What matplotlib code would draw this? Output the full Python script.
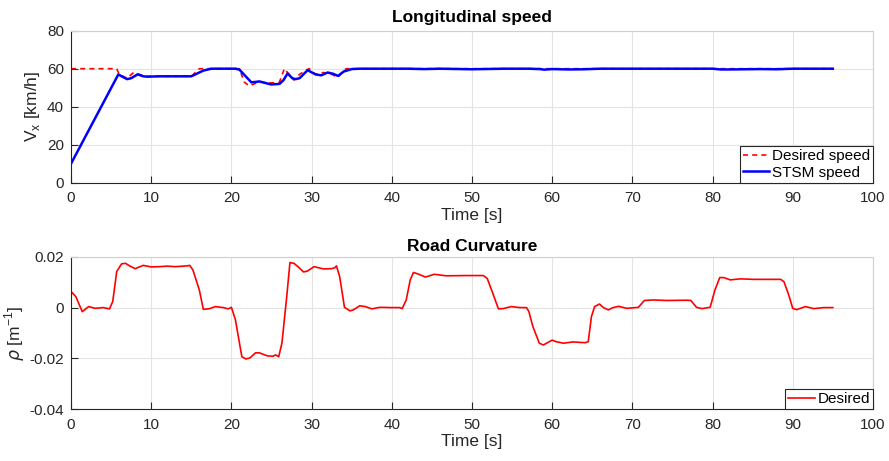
import numpy as np
import matplotlib.pyplot as plt

plt.rcParams['font.family'] = ['Liberation Sans', 'DejaVu Sans']
plt.rcParams['axes.unicode_minus'] = False

# ---- data ----
# longitudinal speed, km/h
t_stsm = [0, 5.9, 6.3, 7.0, 7.5, 8.3, 9.0, 9.5, 11, 13, 15, 15.5, 16.5, 17.5,
          20.5, 21.0, 22.0, 22.5, 23.5, 24.2, 25.0, 26.0, 26.5, 27.0, 27.6,
          28.0, 28.5, 29.5, 30.5, 31.2, 32.0, 32.7, 33.3, 34.0, 35.0, 36, 42,
          44, 46, 50, 54, 57, 58.5, 59, 60, 62, 64, 66, 70, 80, 81, 82, 84,
          86, 88, 90, 95]
v_stsm = [10, 57, 56, 54.5, 55, 57, 56, 55.8, 56, 56, 56, 57, 59, 60,
          60, 59.5, 55, 52.8, 53.3, 52.5, 51.7, 52, 54, 57.5, 55,
          54.5, 55, 59.2, 57, 56.5, 58, 57.3, 56.2, 58.5, 59.8, 60, 60,
          59.8, 60, 59.7, 60, 60, 59.8, 59.5, 59.8, 59.6, 59.7, 60, 60, 60, 59.6, 59.6, 59.7,
          59.8, 59.7, 60, 60]
t_des = [0, 5.7, 6.0, 7.0, 7.8, 8.5, 9.5, 15, 15.5, 16, 21.0, 21.6, 22.2, 23.5,
         25, 26.0, 26.6, 27.2, 27.8, 28.5, 29.2, 29.7, 30.5, 31.5, 32.5, 33.3,
         33.8, 34.3, 95]
v_des = [60, 60, 57, 55, 58, 57, 56, 56, 58, 60, 60, 53, 51, 53,
         52.5, 53, 60, 57, 54, 57, 59, 60, 57, 58, 57, 55.5,
         58, 60, 60]

# road curvature, 1/m
t_rho = [0, 0.6, 1.4, 2.2, 3, 4, 4.8, 5.2, 5.7, 6.3, 6.8, 7.3, 8, 9, 10, 11, 12,
         13, 14.5, 14.8, 15.2, 16, 16.5, 17.3, 18, 19, 19.6, 20, 20.5, 21.3,
         21.8, 22.3, 23, 23.5, 24.5, 25.2, 25.5, 25.9, 26.3, 26.9, 27.3, 27.8,
         28.3, 29, 29.5, 30.3, 31.5, 32.5, 32.9, 33.1, 33.5, 34.1, 34.8, 35.2,
         36, 36.7, 37.5, 38.5, 40, 41, 41.3, 41.8, 42.3, 42.7, 43.3, 44.2, 45.3,
         46.8, 49.3, 51.4, 51.9, 52.6, 53.3, 53.9, 54.9, 56, 56.8, 57.1, 57.6,
         58.4, 58.9, 59.3, 60, 60.5, 61.4, 62.6, 64.1, 64.5, 64.9, 65.3, 65.9,
         66.4, 67, 67.6, 68.3, 69.3, 70.75, 71.5, 72.6, 74.3, 76.8, 77.3, 78,
         78.7, 79.7, 80.3, 80.9, 81.4, 82.2, 83.5, 85.1, 86.8, 88.5, 88.9, 89.5,
         90, 90.5, 91.6, 92.6, 93.9, 95]
rho = [0.0063, 0.0043, -0.0016, 0.0004, -0.0003, 0, -0.0005, 0.0024, 0.0142,
       0.0172, 0.0174, 0.0164, 0.0153, 0.0166, 0.016, 0.0161, 0.0163, 0.0161,
       0.0164, 0.0166, 0.0148, 0.0069, -0.0007, -0.0004, 0.0004, 0, -0.0005,
       0.0001, -0.0048, -0.0193, -0.0202, -0.0198, -0.0178, -0.0178, -0.019,
       -0.0191, -0.0186, -0.0193, -0.014, 0.0043, 0.0177, 0.0174, 0.0161,
       0.014, 0.0144, 0.0161, 0.0152, 0.0153, 0.0157, 0.0164, 0.0122, 0.0001,
       -0.0013, -0.0009, 0.0007, 0.0004, -0.0005, 0.0001, 0, 0, -0.0004, 0.003,
       0.0109, 0.0138, 0.0132, 0.012, 0.0131, 0.0125, 0.0126, 0.0126, 0.0115,
       0.0056, -0.0005, -0.0004, 0.0004, 0, 0, -0.0016, -0.0075, -0.014,
       -0.0147, -0.014, -0.0128, -0.0134, -0.014, -0.0135, -0.0138, -0.0134,
       -0.0035, 0.0004, 0.0014, 0, -0.0009, 0, 0.0005, -0.0003, 0.0001, 0.0028,
       0.003, 0.0028, 0.0029, 0.0028, 0.0001, -0.0004, 0.0001, 0.0069, 0.0118,
       0.0118, 0.0109, 0.0113, 0.0111, 0.0111, 0.0111, 0.0102, 0.005, -0.0003,
       -0.0008, 0.0004, -0.0004, 0, 0]

txt = '#262626'
grid_c = '#e3e3e3'

fig = plt.figure(figsize=(8.89, 4.61), dpi=100)
ax1 = fig.add_axes([0.0799, 0.6037, 0.902, 0.3297])
ax2 = fig.add_axes([0.0799, 0.1121, 0.902, 0.331])


def style(ax):
    ax.set_xlim(0, 100)
    ax.set_xticks(np.arange(0, 101, 10))
    ax.grid(True, color=grid_c, linewidth=0.8)
    ax.set_axisbelow(True)
    for s in ax.spines.values():
        s.set_color(txt)
        s.set_linewidth(0.8)
    for s in ['top', 'right']:
        ax.spines[s].set_color('#d0d0d0')
    ax.tick_params(direction='in', length=5, width=0.8, colors=txt,
                   labelsize=11, labelcolor=txt)
    ax.tick_params(axis='x', pad=6)
    ax.tick_params(axis='y', pad=5)


def legend(ax):
    leg = ax.legend(loc='lower right', fontsize=11, handlelength=1.75,
                    handletextpad=0.15, borderpad=0.2, labelspacing=0.15,
                    borderaxespad=0, fancybox=False, framealpha=1)
    leg.get_frame().set_edgecolor(txt)
    leg.get_frame().set_linewidth(0.8)


# speed plot
ax1.plot(t_des, v_des, '--', color='red', lw=1.2, dashes=(3, 2.5), label='Desired speed')
ax1.plot(t_stsm, v_stsm, '-', color='blue', lw=1.8, label='STSM speed')
style(ax1)
ax1.set_ylim(0, 80)
ax1.set_yticks([0, 20, 40, 60, 80])
ax1.set_title('Longitudinal speed', fontsize=12.5, fontweight='bold', color='black', pad=6)
ax1.set_xlabel('Time [s]', fontsize=12.5, color=txt, labelpad=2)
ax1.set_ylabel('V$_\\mathregular{x}$ [km/h]', fontsize=12.5, color=txt, labelpad=4)
legend(ax1)

# curvature plot
ax2.plot(t_rho, rho, '-', color='red', lw=1.2, label='Desired')
style(ax2)
ax2.set_ylim(-0.04, 0.02)
ax2.set_yticks([-0.04, -0.02, 0, 0.02])
ax2.set_yticklabels(['-0.04', '-0.02', '0', '0.02'])
ax2.set_title('Road Curvature', fontsize=12.5, fontweight='bold', color='black', pad=4)
ax2.set_xlabel('Time [s]', fontsize=12.5, color=txt, labelpad=2)
ax2.set_ylabel('$\\rho$ [m$^\\mathregular{-1}$]', fontsize=12.5, color=txt, labelpad=2)
legend(ax2)

fig.savefig('out.png', dpi=100)
